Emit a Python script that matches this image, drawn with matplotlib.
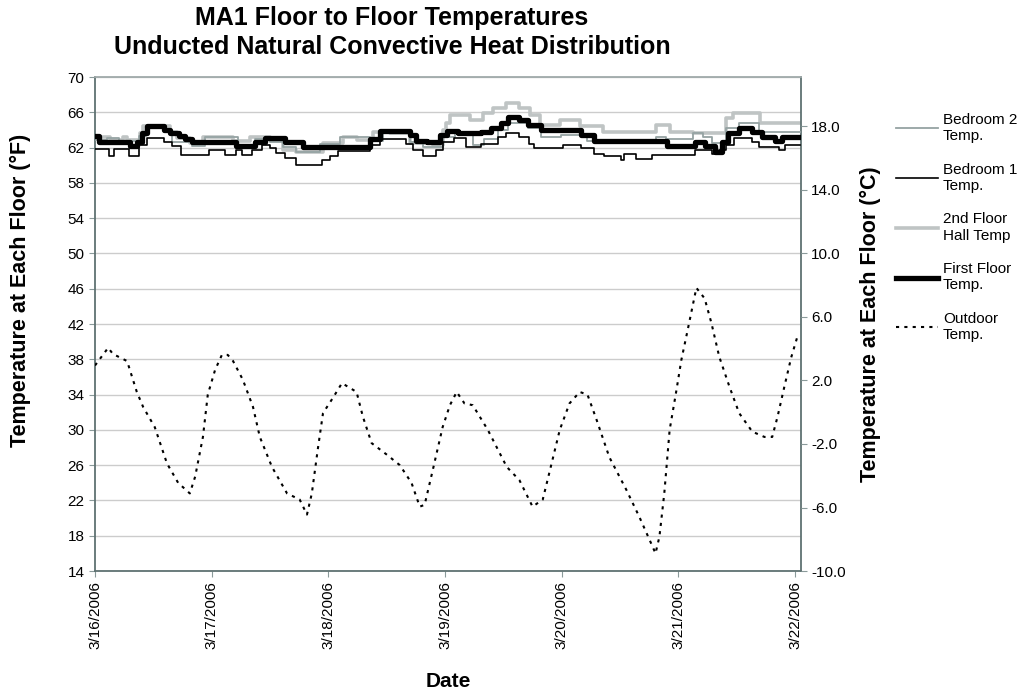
import matplotlib
matplotlib.use("Agg")
import matplotlib.pyplot as plt
from matplotlib.lines import Line2D
import numpy as np
import pandas as pd

# hours since 3/16/2006 00:00 and temperatures in deg F
first_floor_hours = [0, 0.8, 7.3, 8.6, 9.7, 10.7, 14.1, 15.5, 17.2, 18.6, 20.0, 28.9, 33.0, 35.0,
                     39.0, 42.8, 56.5, 58.6, 64.7, 66.1, 68.2, 70.9, 72.5, 74.6, 79.4, 81.4,
                     83.5, 84.9, 87.3, 89.0, 91.7, 100.0, 102.7, 117.7, 123.5, 125.5, 127.6,
                     129.0, 130.3, 132.4, 135.1, 137.2, 139.9, 141.3, 145.0]
first_floor_temp = [63.3, 62.65, 62.2, 62.65, 63.6, 64.5, 64.0, 63.7, 63.3, 63.0, 62.65, 62.2, 62.65, 63.1,
                    62.65, 62.1, 63.0, 63.9, 63.4, 62.8, 62.65, 63.4, 63.9, 63.6, 63.8, 64.2,
                    64.75, 65.5, 65.1, 64.6, 64.0, 63.4, 62.8, 62.2, 62.65, 62.2, 61.5,
                    62.65, 63.6, 64.2, 63.8, 63.2, 62.8, 63.2, 63.2]

bedroom1_hours = [0, 2.8, 3.9, 6.9, 9.0, 10.7, 14.1, 15.8, 17.6, 23.4, 26.8, 28.9, 30.2, 32.3, 34.3,
                  36.0, 37.3, 39.0, 41.4, 46.6, 48.3, 50.0, 56.5, 58.6, 64.0, 65.4, 67.5, 70.2,
                  71.6, 73.9, 76.3, 79.4, 82.8, 84.5, 87.3, 89.3, 90.4, 96.2, 100.0, 102.7, 104.7,
                  108.2, 108.8, 111.2, 114.6, 123.5, 126.9, 128.3, 129.7, 131.4, 135.1, 136.5,
                  140.6, 142.0, 145.0]
bedroom1_temp = [61.8, 61.1, 61.8, 61.1, 62.3, 63.1, 62.6, 62.2, 61.2, 61.7, 61.2, 61.7, 61.2, 61.7, 62.3,
                 61.9, 61.4, 60.8, 60.0, 60.55, 61.1, 61.6, 62.3, 63.0, 62.45, 61.7, 61.1, 61.7,
                 62.6, 63.1, 62.1, 62.45, 63.2, 63.7, 63.2, 62.45, 61.9, 62.3, 61.9, 61.3, 61.1,
                 60.55, 61.3, 60.7, 61.2, 61.7, 61.3, 61.7, 62.3, 63.1, 62.65, 62.1,
                 61.7, 62.3, 62.3]

bedroom2_hours = [0, 2.5, 5.0, 9.0, 10.5, 14.1, 15.8, 20.0, 22.7, 29.5, 33.0, 36.0, 38.7, 41.4,
                  46.2, 50.3, 56.5, 59.3, 64.7, 67.5, 71.6, 74.0, 77.7, 80.1, 82.8, 84.9, 89.0,
                  91.7, 95.8, 101.3, 104.5, 115.4, 117.5, 123.0, 125.0, 127.0, 129.7, 132.4,
                  136.5, 145.0]
bedroom2_temp = [62.9, 63.1, 62.7, 63.3, 64.2, 63.8, 62.65, 62.2, 63.2, 62.3, 63.0, 62.65, 62.1, 61.5,
                 62.45, 63.2, 62.8, 63.8, 62.65, 62.1, 63.2, 63.6, 62.3, 63.0, 64.0, 64.75, 64.2,
                 63.2, 63.4, 62.8, 62.9, 63.2, 63.0, 63.6, 63.2, 62.5, 64.2, 64.75,
                 63.8, 63.8]

hall_hours = [0, 3.1, 5.8, 6.5, 9.2, 9.9, 15.4, 16.8, 19.5, 22.3, 28.4, 31.9, 36.0, 38.7, 41.4,
              46.9, 51.0, 53.8, 57.2, 60.6, 64.7, 69.5, 71.6, 72.2, 73.0, 77.1, 79.8, 81.9,
              84.6, 87.3, 89.4, 91.5, 95.6, 99.7, 104.5, 115.4, 118.2, 123.0, 129.8, 131.2,
              136.7, 145.0]
hall_temp = [63.2, 62.9, 63.2, 62.9, 63.6, 64.4, 63.8, 63.05, 62.5, 63.2, 62.7, 63.2, 62.9, 61.7, 61.5,
             62.5, 63.2, 62.9, 63.8, 63.6, 62.5, 62.3, 64.0, 64.75, 65.7, 65.1, 65.9, 66.45,
             67.0, 66.45, 65.7, 64.6, 65.1, 64.4, 63.8, 64.6, 63.8, 63.6, 65.3, 65.9,
             64.75, 64.75]

outdoor_hours = [0, 2.7, 3.7, 6.6, 8.6, 9.9, 12.3, 14.8, 17.1, 19.5, 20.6, 22.2, 23.2, 24.7, 26.1,
                 27.3, 28.4, 30.4, 32.5, 33.9, 36.4, 39.5, 42.1, 43.6, 44.6, 45.8, 46.9, 48.9,
                 50.8, 53.8, 55.1, 56.9, 60.0, 62.7, 65.1, 66.8, 67.8, 69.5, 71.5, 73.0, 74.4,
                 76.0, 77.7, 80.8, 84.7, 87.3, 90.0, 92.1, 94.1, 95.6, 97.6, 99.7, 101.3, 103.2,
                 105.8, 109.3, 112.0, 114.1, 115.3, 116.1, 117.1, 118.2, 119.6, 120.6, 121.9,
                 123.7, 125.4, 126.8, 128.4, 130.5, 132.5, 135.2, 137.7, 139.3, 140.4, 141.8,
                 143.2, 144.6]
outdoor_temp = [37.3, 39.3, 38.6, 37.8, 34.3, 32.6, 30.3, 26.2, 24.0, 22.8, 24.7, 29.2, 34.0, 36.8, 38.5,
                38.5, 37.8, 35.7, 32.6, 29.2, 25.8, 22.8, 22.1, 20.4, 22.8, 27.7, 31.9, 33.6,
                35.3, 34.3, 31.5, 28.5, 27.2, 26.0, 24.0, 21.3, 21.5, 25.5, 30.3, 32.8, 34.3,
                33.0, 32.8, 30.0, 25.8, 24.3, 21.3, 22.1, 26.6, 30.0, 33.0, 34.3, 34.0, 31.1,
                26.9, 23.2, 20.1, 17.5, 16.0, 17.9, 22.8, 30.0, 34.5, 37.9, 41.3,
                46.1, 44.9, 42.1, 38.3, 34.9, 31.9, 29.8, 29.2, 29.2, 31.5, 34.9,
                38.2, 40.8]

f_ticks = list(range(14, 71, 4))
c_ticks = [-10, -6, -2, 2, 6, 10, 14, 18]
start = pd.Timestamp("2006-03-16")
days = pd.date_range(start, periods=7, freq="D")
day_labels = [f"{d.month}/{d.day}/{d.year}" for d in days]


def to_time(hours):
    return start + pd.to_timedelta(hours, unit="h")


plt.rcParams["font.family"] = ["Liberation Sans", "DejaVu Sans"]

fig = plt.figure(figsize=(10.26, 6.94), dpi=100)
ax = fig.add_axes([0.0926, 0.1772, 0.688, 0.7118])

ax.step(to_time(hall_hours), hall_temp, where="post", color="#bfc4c4", lw=2.6, zorder=2)
ax.step(to_time(bedroom2_hours), bedroom2_temp, where="post", color="#95a3a3", lw=1.3, zorder=3)
ax.step(to_time(bedroom1_hours), bedroom1_temp, where="post", color="black", lw=1.2, zorder=4)
ax.step(to_time(first_floor_hours), first_floor_temp, where="post", color="black", lw=3.8, zorder=5)
ax.plot(to_time(outdoor_hours), outdoor_temp, color="black", lw=1.5, ls=(0, (1.5, 2.5)), zorder=6)

ax.set_ylim(14, 70)
ax.set_yticks(f_ticks)
ax.set_xlim(start, start + pd.Timedelta(hours=145.2))
ax.set_xticks(days)
ax.set_xticklabels(day_labels, rotation=90, fontsize=11)
ax.tick_params(axis="y", labelsize=11, length=4, color="#8a9a9a")
ax.tick_params(axis="x", length=4, color="#8a9a9a")
ax.grid(axis="y", color="#cccccc", lw=1)
ax.set_axisbelow(True)
for s in ax.spines.values():
    s.set_color("#5f7272")
    s.set_linewidth(1.3)
ax.spines["top"].set_color("#a0aaaa")

ax.set_xlabel("Date", fontsize=15, fontweight="bold", labelpad=16)
ax.set_ylabel("Temperature at Each Floor (°F)", fontsize=15.5, fontweight="bold")
ax.yaxis.set_label_coords(-0.091, 0.569)

ax2 = ax.twinx()
ax2.set_ylim((14 - 32) * 5 / 9, (70 - 32) * 5 / 9)
ax2.set_yticks(c_ticks)
ax2.set_yticklabels([f"{c:.1f}" for c in c_ticks], fontsize=11)
ax2.tick_params(axis="y", length=4, color="#8a9a9a")
ax2.set_ylabel("Temperature at Each Floor (°C)", fontsize=15.5, fontweight="bold", labelpad=10)
for s in ax2.spines.values():
    s.set_visible(False)

fig.text(0.382, 0.992, "MA1 Floor to Floor Temperatures\nUnducted Natural Convective Heat Distribution",
         ha="center", va="top", fontsize=18, fontweight="bold", linespacing=1.3,
         family=["Liberation Sans Narrow", "Liberation Sans", "DejaVu Sans"])

handles = [
    Line2D([], [], color="#95a3a3", lw=1.3),
    Line2D([], [], color="black", lw=1.2),
    Line2D([], [], color="#bfc4c4", lw=2.6),
    Line2D([], [], color="black", lw=3.8),
    Line2D([], [], color="black", lw=1.5, ls=(0, (1.5, 2.5))),
]
labels = ["Bedroom 2\nTemp.", "Bedroom 1\nTemp.", "2nd Floor\nHall Temp", "First Floor\nTemp.", "Outdoor\nTemp."]
fig.legend(handles, labels, loc="upper left", bbox_to_anchor=(0.867, 0.846), frameon=False,
           fontsize=11, handlelength=2.8, handletextpad=0.3, labelspacing=1.28, borderaxespad=0)

fig.savefig("out.png", dpi=100)
